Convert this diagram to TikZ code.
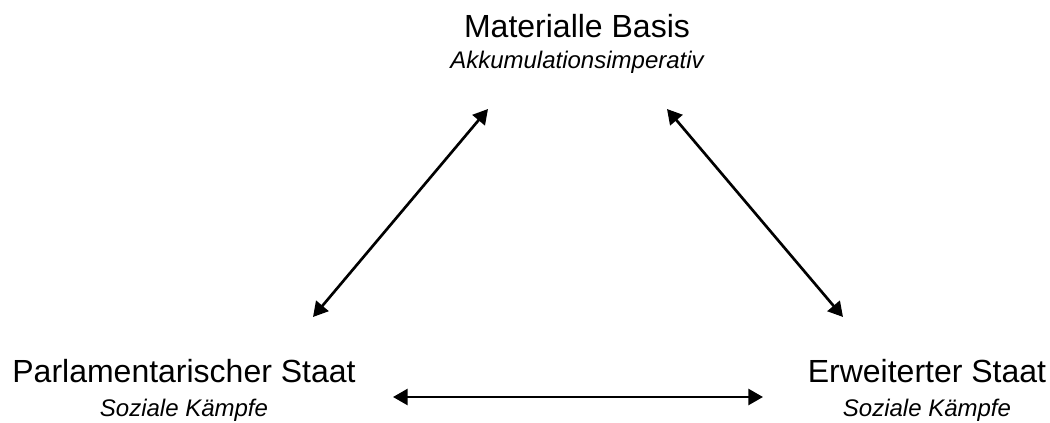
\documentclass[tikz,border=0pt]{standalone}
\usepackage{fontspec}
\setmainfont{Liberation Sans}
\usetikzlibrary{arrows.meta}

\tikzset{
    titel/.style={anchor=base, inner sep=0pt, font=\fontsize{24}{28}\selectfont},
    untertitel/.style={anchor=base, inner sep=0pt, font=\fontsize{18}{22}\selectfont\itshape},
    pfeil/.style={line width=2pt, {Triangle[length=11pt,width=12pt]}-{Triangle[length=11pt,width=12pt]}}
}

\begin{document}
\begin{tikzpicture}[x=0.75pt, y=-0.75pt]
    \useasboundingbox (0,0) rectangle (1050,422);

    % Knoten
    \node[titel] (basis) at (577,37) {Materialle Basis};
    \node[untertitel] (basis-sub) at (577,68) {Akkumulationsimperativ};
    \node[titel] (parl) at (184,382) {Parlamentarischer Staat};
    \node[untertitel] (parl-sub) at (184,416) {Soziale Kämpfe};
    \node[titel] (erw) at (927,382) {Erweiterter Staat};
    \node[untertitel] (erw-sub) at (927,416) {Soziale Kämpfe};

    % Enden der Pfeile
    \coordinate (pb1) at (313,317);
    \coordinate (pb2) at (488,109);
    \coordinate (be1) at (667,109);
    \coordinate (be2) at (843,317);
    \coordinate (pe1) at (393,397);
    \coordinate (pe2) at (763,397);

    \draw[pfeil] (pb1) -- (pb2);
    \draw[pfeil] (be1) -- (be2);
    \draw[pfeil] (pe1) -- (pe2);
\end{tikzpicture}
\end{document}
